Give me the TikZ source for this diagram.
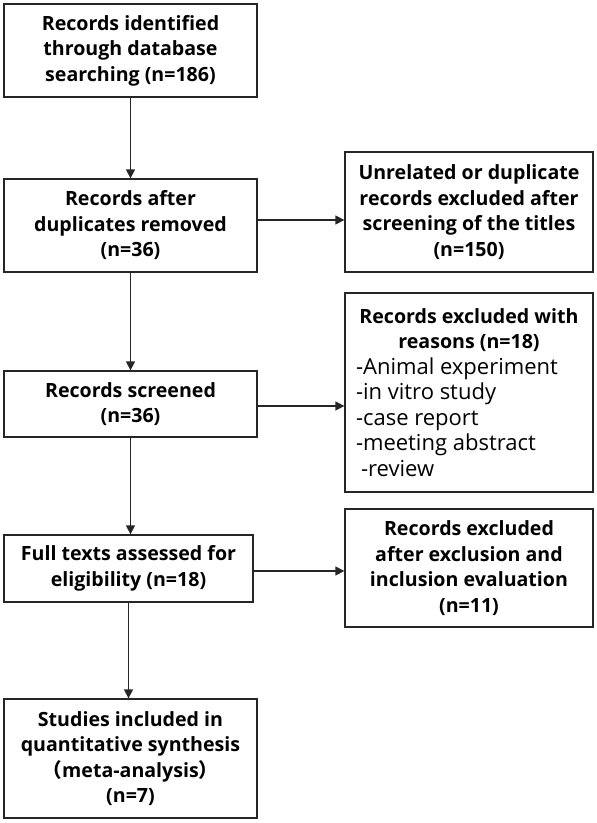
\documentclass[tikz,border=0pt]{standalone}
\usepackage{fontspec}
\setmainfont{Open Sans}
\newfontfamily\cjk{Noto Sans CJK SC}
\usetikzlibrary{arrows.meta}
\begin{document}
\begin{tikzpicture}[x=1pt,y=-1pt,
  box/.style={draw=black!85,line width=1.3pt,align=center,inner sep=0pt,
    font=\fontsize{19.6}{25.5}\selectfont\bfseries},
  conn/.style={draw=black!85,line width=1.3pt,-{Triangle[length=9pt,width=9pt]}}]
\useasboundingbox (0,0) rectangle (597,823);
\node[box,minimum width=253pt,minimum height=93pt] (b1) at (130.5,50.5)
  {Records identified\\through database\\searching (n=186)};
\node[box,minimum width=253pt,minimum height=93pt] (b2) at (130.5,225.5)
  {Records after\\duplicates removed\\(n=36)};
\node[box,minimum width=253pt,minimum height=66pt] (b3) at (130.5,404)
  {Records screened\\(n=36)};
\node[box,minimum width=249pt,minimum height=67pt] (b4) at (128.5,568.5)
  {Full texts assessed for\\eligibility (n=18)};
\node[box,minimum width=253pt,minimum height=119pt] (b5) at (130.5,758.5)
  {Studies included in\\quantitative synthesis\\{\cjk （}meta-analysis{\cjk ）}\\(n=7)};
\node[box,minimum width=248pt,minimum height=120pt] (r1) at (469,212)
  {Unrelated or duplicate\\records excluded after\\screening of the titles\\(n=150)};
\node[box,minimum width=248pt,minimum height=199pt] (r2) at (469,392.5)
  {\begin{minipage}{236pt}\centering Records excluded with\\reasons (n=18)\par
   \raggedright\leftskip=5pt\mdseries\fontsize{22}{25.5}\selectfont -Animal experiment\\-in vitro study\\-case report\\-meeting abstract\\\hspace*{5pt}-review\end{minipage}};
\node[box,minimum width=248pt,minimum height=118pt] (r3) at (469,568)
  {Records excluded\\after exclusion and\\inclusion evaluation\\(n=11)};
\draw[conn] (b1.south) -- (b2.north);
\draw[conn] (b2.south) -- (b3.north);
\draw[conn] (b3.south) -- (b4.north -| b3.south);
\draw[conn] (b4.south) -- (b5.north -| b4.south);
\draw[conn] ([yshift=5.5pt]b2.east) -- ([yshift=5.5pt]b2.east -| r1.west);
\draw[conn] ([yshift=-2pt]b3.east) -- ([yshift=-2pt]b3.east -| r2.west);
\draw[conn] ([yshift=-2.5pt]b4.east) -- ([yshift=-2.5pt]b4.east -| r3.west);
\end{tikzpicture}
\end{document}
